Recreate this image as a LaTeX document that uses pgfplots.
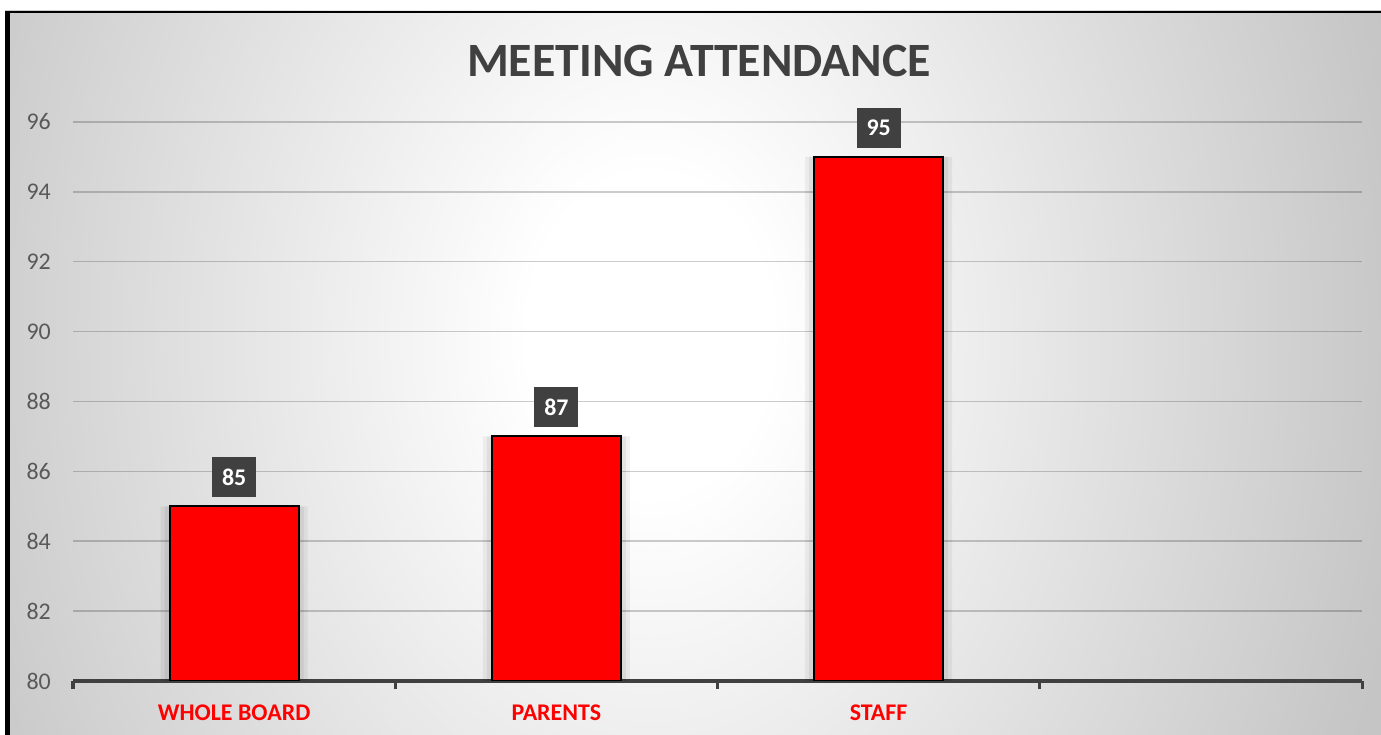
\documentclass[border=0pt]{standalone}
\usepackage{pgfplots}
\pgfplotsset{compat=1.18}
\usepackage{fontspec}
\setmainfont{Carlito}
\definecolor{axisgray}{HTML}{404040}
\definecolor{ticklab}{HTML}{595959}
\definecolor{labbox}{HTML}{404040}
\pgfdeclareradialshading{bgshade}{\pgfpointorigin}{color(0bp)=(white); color(4bp)=(white); color(25bp)=(gray!45); color(71bp)=(gray!70)}
\begin{document}
\begin{tikzpicture}
\useasboundingbox (0bp,0bp) rectangle (1381bp,735bp);
\fill[white] (0bp,0bp) rectangle (1381bp,735bp);
\begin{scope}
\clip (5bp,0bp) rectangle (1381bp,724bp);
\shade[shading=bgshade] (-110bp,-600bp) rectangle (1410bp,1400bp);
\end{scope}
\fill[black] (5bp,0bp) rectangle (10bp,724bp);
\fill[black] (5bp,721.5bp) rectangle (1381bp,724bp);
\node[anchor=base, font=\fontsize{48}{48}\selectfont\bfseries, text=axisgray, inner sep=0pt] at (699bp,658bp) {MEETING ATTENDANCE};
\begin{axis}[
  at={(73bp,54bp)}, anchor=south west,
  scale only axis, width=1289bp, height=559bp,
  xmin=-0.5, xmax=3.5, ymin=80, ymax=96,
  ytick={80,82,...,96},
  xtick={-0.5,0.5,1.5,2.5,3.5}, xticklabels={},
  ymajorgrids, grid style={black, opacity=0.2, line width=1.5bp},
  axis x line*=bottom, axis y line*=left,
  y axis line style={draw=none}, ytick style={draw=none},
  x axis line style={line width=3bp, axisgray},
  xtick style={draw=axisgray, line width=3bp},
  tick align=outside, major tick length=8bp,
  extra x ticks={0,1,2}, extra x tick labels={WHOLE BOARD, PARENTS, STAFF},
  extra x tick style={tick style={draw=none}, major tick length=0bp,
    xticklabel style={text=red, font=\fontsize{24}{24}\selectfont\bfseries, inner sep=0pt, anchor=north, yshift=-24bp}},
  /pgf/number format/assume math mode=true,
  yticklabel style={text=ticklab, font=\fontsize{24}{24}\selectfont, inner sep=0pt, xshift=-14bp},
  ybar, bar shift=0bp,
]
\addplot[fill=black, draw=none, opacity=0.05, bar width=147bp, forget plot] coordinates {(0,85) (1,87) (2,95)};
\addplot[fill=black, draw=none, opacity=0.06, bar width=139bp, forget plot] coordinates {(0,85) (1,87) (2,95)};
\addplot[fill=red, draw=black, line width=2bp, bar width=129bp,
  nodes near coords,
  nodes near coords style={anchor=south, yshift=8bp, fill=labbox, text=white, font=\fontsize{24}{24}\selectfont\bfseries, minimum width=44bp, minimum height=40bp, inner sep=0pt}]
  coordinates {(0,85) (1,87) (2,95)};
\end{axis}
\end{tikzpicture}
\end{document}
